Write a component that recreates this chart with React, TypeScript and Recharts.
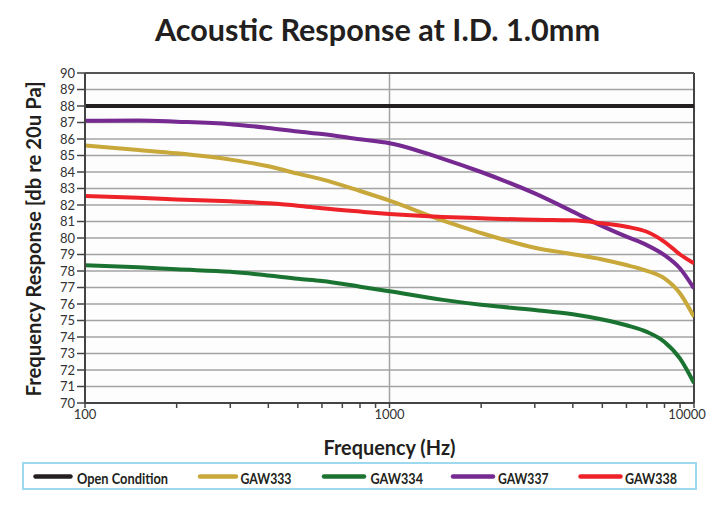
import React from 'react';
import { LineChart, Line, XAxis, YAxis, CartesianGrid, ReferenceLine, Legend, Label } from 'recharts';

const frequencies = [100, 150, 200, 300, 400, 500, 600, 800, 1000, 1500, 2000, 3000, 4000, 5000, 6000, 7000, 8000, 9000, 10000];
const openCondition = [88, 88, 88, 88, 88, 88, 88, 88, 88, 88, 88, 88, 88, 88, 88, 88, 88, 88, 88];
const gaw333 = [85.6, 85.33, 85.13, 84.75, 84.35, 83.9, 83.55, 82.85, 82.27, 81.05, 80.3, 79.41, 79.02, 78.7, 78.36, 78.01, 77.55, 76.64, 75.22];
const gaw334 = [78.35, 78.22, 78.1, 77.95, 77.73, 77.53, 77.4, 77.05, 76.77, 76.25, 75.95, 75.64, 75.38, 75.06, 74.71, 74.31, 73.7, 72.69, 71.21];
const gaw337 = [87.1, 87.12, 87.05, 86.9, 86.67, 86.45, 86.3, 85.98, 85.74, 84.8, 84.0, 82.7, 81.6, 80.72, 80.08, 79.57, 78.96, 78.15, 76.94];
const gaw338 = [82.55, 82.44, 82.34, 82.22, 82.1, 81.96, 81.8, 81.6, 81.46, 81.28, 81.2, 81.1, 81.07, 80.89, 80.68, 80.38, 79.77, 79.0, 78.46];

const seriesNames = ['Open Condition', 'GAW333', 'GAW334', 'GAW337', 'GAW338'];
const xTicks = [100, 200, 300, 400, 500, 600, 700, 800, 900, 1000, 2000, 3000, 4000, 5000, 6000, 7000, 8000, 9000, 10000];
const xLabelled = [100, 1000, 10000];
const yTicks = [70, 71, 72, 73, 74, 75, 76, 77, 78, 79, 80, 81, 82, 83, 84, 85, 86, 87, 88, 89, 90];

const rows = frequencies.map((freq, i) => ({
  freq,
  open: openCondition[i],
  g333: gaw333[i],
  g334: gaw334[i],
  g337: gaw337[i],
  g338: gaw338[i],
}));

const FONT = 'Lato, "Open Sans", sans-serif';
const INK = '#231f20';

const legendSwatch = [[13.5, 48.5], [178, 214], [302, 342], [431, 471], [558.5, 598.5]];
const legendText = [[55, 91], [218.5, 51], [348.5, 52.5], [476, 50.5], [603, 52]];

const YTitle = ({ viewBox }: any) => {
  const cx = (viewBox?.x ?? 0) + 33;
  const cy = (viewBox?.y ?? 73) + (viewBox?.height ?? 330) / 2 + 1;
  return (
    <text x={cx} y={cy} transform={`rotate(-90 ${cx} ${cy})`} textAnchor="middle" dominantBaseline="central"
      fontFamily={FONT} fontWeight={700} fontSize={20} fill={INK} textLength={315} lengthAdjust="spacingAndGlyphs">
      Frequency Response [db re 20u Pa]
    </text>
  );
};

const XTitle = ({ viewBox }: any) => {
  const cx = (viewBox?.x ?? 85) + (viewBox?.width ?? 609) / 2;
  const cy = (viewBox?.y ?? 403) + 44;
  return (
    <text x={cx} y={cy} textAnchor="middle" dominantBaseline="central"
      fontFamily={FONT} fontWeight={700} fontSize={20} fill={INK} textLength={132} lengthAdjust="spacingAndGlyphs">
      Frequency (Hz)
    </text>
  );
};

const XTick = ({ x, y, payload }: any) => {
  const v = payload?.value;
  if (!xLabelled.includes(v)) return null;
  const shift = v === 10000 ? -7 : 0;
  return (
    <text x={x + shift} y={y + 4} textAnchor="middle" dominantBaseline="central" fontFamily={FONT} fontSize={13} fill="#333333">
      {v}
    </text>
  );
};

const LegendBox = ({ payload }: any) => {
  const items = seriesNames.map((name) => (payload || []).find((p: any) => p.value === name)).filter(Boolean);
  return (
    <svg width={675} height={28} style={{ display: 'block' }}>
      <rect x={1} y={1} width={673} height={26} fill="#ffffff" stroke="#9dd8f1" strokeWidth={2} />
      {items.map((p: any, i: number) => (
        <g key={p.value}>
          <line x1={legendSwatch[i][0]} x2={legendSwatch[i][1]} y1={14.5} y2={14.5} stroke={p.color} strokeWidth={4.5} strokeLinecap="round" />
          <text x={legendText[i][0]} y={15} dominantBaseline="central" fontFamily={FONT} fontWeight={700} fontSize={16}
            fill={INK} textLength={legendText[i][1]} lengthAdjust="spacingAndGlyphs">
            {p.value}
          </text>
        </g>
      ))}
    </svg>
  );
};

export default function App() {
  return (
    <div style={{ position: 'absolute', left: 0, top: 0, width: 716, height: 506, background: '#ffffff' }}>
      <svg width={716} height={60} style={{ position: 'absolute', left: 0, top: 0 }}>
        <text x={377.5} y={41} textAnchor="middle" fontFamily={FONT} fontWeight={700} fontSize={31} fill={INK}
          textLength={445} lengthAdjust="spacingAndGlyphs">
          Acoustic Response at I.D. 1.0mm
        </text>
      </svg>
      <LineChart width={716} height={506} data={rows} margin={{ top: 73, right: 22, left: 0, bottom: 0 }}>
        <CartesianGrid vertical={false} stroke="#a3a3a3" strokeWidth={1.5} fill="#fdfdfd" />
        <ReferenceLine x={1000} stroke="#a3a3a3" strokeWidth={1.5} />
        <ReferenceLine x={10000} stroke="#444444" strokeWidth={2} />
        <ReferenceLine y={90} stroke="#555555" strokeWidth={2} />
        <XAxis dataKey="freq" type="number" scale="log" domain={[100, 10000]} ticks={xTicks} interval={0}
          allowDataOverflow height={103} tickSize={5} tick={<XTick />}
          axisLine={{ stroke: '#444444', strokeWidth: 2 }} tickLine={{ stroke: '#444444', strokeWidth: 1.5 }}>
          <Label content={<XTitle />} />
        </XAxis>
        <YAxis type="number" domain={[70, 90]} ticks={yTicks} interval={0} width={85} tickSize={8} tickMargin={2}
          axisLine={{ stroke: '#444444', strokeWidth: 2 }} tickLine={{ stroke: '#444444', strokeWidth: 1.5 }}
          tick={{ fontSize: 13, fontFamily: FONT, fill: '#333333' }}>
          <Label content={<YTitle />} />
        </YAxis>
        <Legend layout="horizontal" verticalAlign="middle" align="center" content={<LegendBox />}
          wrapperStyle={{ left: 22, top: 462, width: 675, height: 28 }} />
        <Line name="Open Condition" dataKey="open" type="monotone" stroke={INK} strokeWidth={4} dot={false} isAnimationActive={false} />
        <Line name="GAW333" dataKey="g333" type="monotone" stroke="#c8a83a" strokeWidth={4} dot={false} isAnimationActive={false} />
        <Line name="GAW334" dataKey="g334" type="monotone" stroke="#1b7331" strokeWidth={4} dot={false} isAnimationActive={false} />
        <Line name="GAW337" dataKey="g337" type="monotone" stroke="#762a91" strokeWidth={4} dot={false} isAnimationActive={false} />
        <Line name="GAW338" dataKey="g338" type="monotone" stroke="#ee2229" strokeWidth={4} dot={false} isAnimationActive={false} />
      </LineChart>
    </div>
  );
}
